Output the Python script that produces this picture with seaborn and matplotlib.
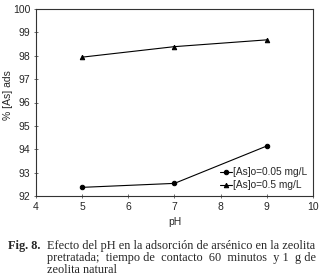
import pandas as pd
import seaborn as sns
import matplotlib.pyplot as plt

ph = [5, 7, 9]
ads_005 = [92.37, 92.54, 94.14]
ads_05 = [97.94, 98.39, 98.68]
series_labels = ['[As]o=0.05 mg/L', '[As]o=0.5 mg/L']

df = pd.DataFrame({
    'pH': ph * 2,
    'ads': ads_005 + ads_05,
    'serie': [series_labels[0]] * 3 + [series_labels[1]] * 3,
})

sns.set_style('ticks')
plt.rcParams['font.family'] = ['Liberation Sans', 'DejaVu Sans']

fig = plt.figure(figsize=(3.28, 2.79), dpi=100)
ax = fig.add_axes([36 / 328, 1 - 196 / 279, 277 / 328, 187 / 279])

sns.lineplot(data=df, x='pH', y='ads', hue='serie', style='serie',
             markers=['o', '^'], dashes=False, palette=['black', 'black'],
             markersize=3.2, linewidth=0.8, markeredgecolor='black', ax=ax)

ax.set_xlim(4, 10)
ax.set_ylim(92, 100)
ax.set_xticks(range(4, 11))
ax.set_yticks(range(92, 101))
ax.tick_params(labelsize=7.5, length=2.5, width=0.6, color='#555555',
               direction='inout', pad=3)
for s in ax.spines.values():
    s.set_linewidth(0.8)
    s.set_color('#333333')
ax.set_xlabel('pH', fontsize=7.5, labelpad=4)
ax.set_ylabel('% [As] ads', fontsize=7.5)
ax.yaxis.set_label_coords(-23 / 277, 0.54)

leg = ax.legend(loc='lower right', fontsize=7.3, frameon=False,
                handlelength=1.2, handletextpad=0.15, labelspacing=0.3,
                borderaxespad=0.15)

serif = ['Liberation Serif', 'DejaVu Serif']
fs = 8.8
fig.text(8 / 328, 1 - 249 / 279, 'Fig. 8.', fontsize=fs, fontweight='bold', family=serif)
fig.text(47 / 328, 1 - 249 / 279, 'Efecto del pH en la adsorción de arsénico en la zeolita',
         fontsize=fs, family=serif)
fig.text(47 / 328, 1 - 261 / 279, 'pretratada;  tiempo de  contacto  60  minutos  y 1  g de',
         fontsize=fs, family=serif)
fig.text(47 / 328, 1 - 273 / 279, 'zeolita natural', fontsize=fs, family=serif)

fig.savefig('out.png', dpi=100)
